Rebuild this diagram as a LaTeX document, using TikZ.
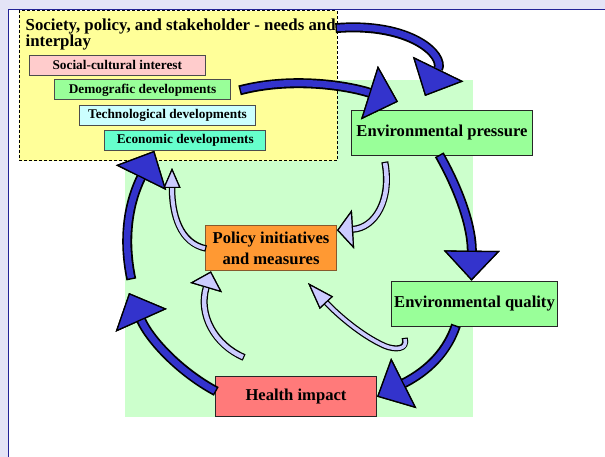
\documentclass[tikz,border=0pt]{standalone}
\usepackage{fontspec}
\setmainfont{Liberation Serif}
\usetikzlibrary{arrows.meta, positioning}
\definecolor{slidelilac}{RGB}{228,228,246}
\definecolor{panelnavy}{RGB}{34,34,150}
\definecolor{stakeyellow}{RGB}{255,255,153}
\definecolor{fieldgreen}{RGB}{204,255,204}
\definecolor{boxgreen}{RGB}{153,255,153}
\definecolor{socialpink}{RGB}{255,204,204}
\definecolor{techcyan}{RGB}{204,255,255}
\definecolor{econaqua}{RGB}{102,255,204}
\definecolor{policyorange}{RGB}{255,153,51}
\definecolor{healthred}{RGB}{255,122,122}
\definecolor{cycleblue}{RGB}{51,51,204}
\definecolor{feedlilac}{RGB}{204,204,255}

\begin{document}
\begin{tikzpicture}[
    x=1pt, y=-1pt,
    mainbox/.style={rectangle, draw=black!85, line width=1.1pt, fill=#1,
                    inner sep=0pt, align=center,
                    font=\fontsize{16.6}{21}\selectfont\bfseries},
    trendbox/.style={rectangle, draw=black!70, line width=1pt, fill=#1,
                     inner sep=0pt, minimum height=20pt,
                     font=\fontsize{13.3}{15}\selectfont\bfseries},
    loopflow/.style={line width=6.5pt, draw=cycleblue,
                     preaction={draw=black, line width=10pt, shorten <=-1.5pt},
                     -{Triangle[width=56pt, length=30pt, fill=cycleblue, color=black, line width=1.3pt]}},
    feedback/.style args={#1/#2/#3/#4}{line width=#3, draw=feedlilac,
                     preaction={draw=black, line width=#4, shorten <=-1.2pt},
                     -{Triangle[width=#1, length=#2, fill=feedlilac, color=black, line width=1.2pt]}}
]
    % Slide background and panel
    \fill[slidelilac] (0,0) rectangle (605,457);
    \useasboundingbox (0,0) rectangle (605,457);
    \filldraw[fill=white, draw=panelnavy, line width=1.2pt] (8.5,9.5) rectangle (615,470);

    % Shaded field behind the cycle
    \fill[fieldgreen] (125,80) rectangle (473,417);

    % Stakeholder frame
    \node[rectangle, draw, line width=0.8pt, dash pattern=on 3pt off 2pt, fill=stakeyellow,
          minimum width=318pt, minimum height=150pt, inner sep=0pt] (stake) at (178,85.8) {};
    \node[anchor=north west, inner sep=0pt, align=left,
          font=\fontsize{16.8}{15}\selectfont\bfseries] (needs) at (25.5,18.5)
          {Society, policy, and stakeholder - needs and\\interplay};

    \node[trendbox=socialpink, minimum width=176pt] (social) at (117.3,65.2) {Social-cultural interest};
    \node[trendbox=boxgreen, minimum width=176pt] (demo) at (142.5,90) {Demografic developments};
    \node[trendbox=techcyan, minimum width=176pt] (tech) at (167.5,115.3) {Technological developments};
    \node[trendbox=econaqua, minimum width=161pt] (econ) at (185.3,140.3) {Economic developments};

    % Cycle boxes
    \node[mainbox=boxgreen, minimum width=181pt, minimum height=45pt] (press) at (442,133) {Environmental pressure};
    \node[mainbox=boxgreen, minimum width=166pt, minimum height=45pt] (quality) at (474.5,303.7) {Environmental quality};
    \node[mainbox=healthred, minimum width=161pt, minimum height=40pt] (health) at (296,396.7) {Health impact};
    \node[mainbox=policyorange, draw=brown!70!black, minimum width=131pt, minimum height=45pt] (policy) at (271,248.3) {Policy initiatives\\and measures};

    % Free ends of the arrows
    \coordinate (needsend) at (337,28);
    \coordinate (presstop) at (425,96);
    \coordinate (demotip) at (398,101.7);
    \coordinate (leftgap) at (129,293);
    \coordinate (leftrise) at (131,278);
    \coordinate (pressfoot) at (385,163);
    \coordinate (policyup) at (172,168);
    \coordinate (healthrise) at (243,357);
    \coordinate (qualityhook) at (405,339);
    \coordinate (policyback) at (308,283);

    % Main cycle
    \draw[loopflow] (needsend) .. controls (410,22) and (445,55) .. (presstop);
    \draw[loopflow] ([xshift=10pt]demo.east) .. controls (290,77) and (345,85) .. (demotip);
    \draw[loopflow] ([xshift=-2pt]press.south) .. controls (462,195) and (472,230) .. ([xshift=-3pt]quality.north);
    \draw[loopflow] ([xshift=-19pt]quality.south) .. controls (445,358) and (420,375) .. (health.east);
    \draw[loopflow] ([yshift=6pt]health.west) .. controls (180,372) and (150,340) .. (leftgap);
    \draw[loopflow] (leftrise) .. controls (122,235) and (130,200) .. ([xshift=50pt]econ.south west);

    % Feedback to policy
    \draw[feedback=39pt/16pt/4.5pt/7pt] (pressfoot) .. controls (392,200) and (375,228) .. ([yshift=-5pt]policy.north east);
    \draw[feedback=17pt/20pt/4pt/6.5pt] (policy.west) .. controls (180,243) and (172,215) .. (policyup);
    \draw[feedback=33pt/17pt/4.5pt/7pt] (healthrise) .. controls (215,345) and (198,315) .. ([xshift=6pt]policy.south west);
    \draw[feedback=18pt/27pt/3.5pt/6pt] (qualityhook) .. controls (408,350) and (395,350) .. (385,346)
        .. controls (360,335) and (335,312) .. (policyback);
\end{tikzpicture}
\end{document}
